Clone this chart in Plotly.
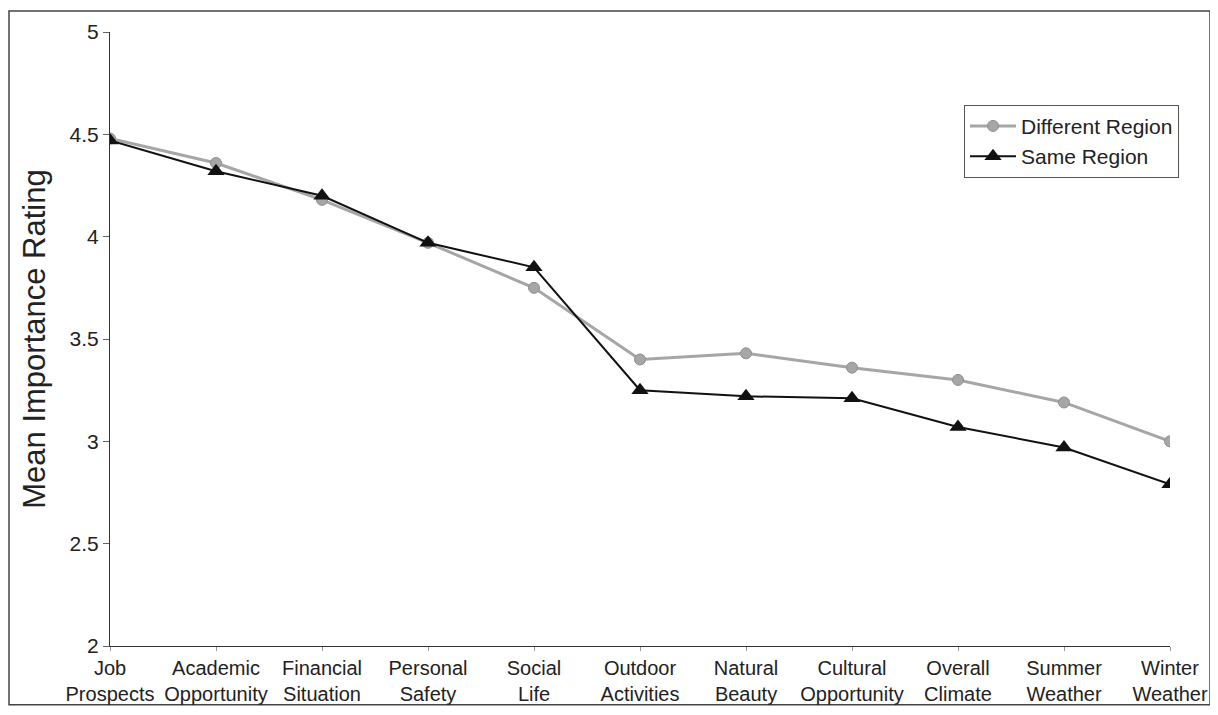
import plotly.graph_objects as go

categories = ["Job<br>Prospects", "Academic<br>Opportunity", "Financial<br>Situation",
              "Personal<br>Safety", "Social<br>Life", "Outdoor<br>Activities",
              "Natural<br>Beauty", "Cultural<br>Opportunity", "Overall<br>Climate",
              "Summer<br>Weather", "Winter<br>Weather"]
different_region = [4.48, 4.36, 4.18, 3.97, 3.75, 3.40, 3.43, 3.36, 3.30, 3.19, 3.00]
same_region = [4.47, 4.32, 4.20, 3.97, 3.85, 3.25, 3.22, 3.21, 3.07, 2.97, 2.79]
y_ticks = [2, 2.5, 3, 3.5, 4, 4.5, 5]
y_ticklabels = ["2", "2.5", "3", "3.5", "4", "4.5", "5"]

x_idx = list(range(len(categories)))
FONT = "Liberation Sans, Arial, sans-serif"

fig = go.Figure()
fig.add_trace(go.Scatter(
    x=x_idx, y=different_region, name="Different Region", mode="lines+markers",
    line=dict(color="#a6a6a6", width=3),
    marker=dict(symbol="circle", size=11, color="#a6a6a6",
                line=dict(color="#8f8f8f", width=1)),
))
fig.add_trace(go.Scatter(
    x=x_idx, y=same_region, name="Same Region", mode="lines+markers",
    line=dict(color="#111111", width=2),
    marker=dict(symbol="triangle-up", size=15, color="#111111"),
))

W, H = 1218, 715
L, R, T, B = 102, 56, 22, 77
pw, ph = W - L - R, H - T - B

def px_x(p):
    return (p - L) / pw

def px_y(p):
    return (H - B - p) / ph

fig.update_layout(
    width=W, height=H,
    margin=dict(l=L, r=R, t=T, b=B),
    paper_bgcolor="white", plot_bgcolor="white",
    font=dict(family=FONT, color="#222222"),
    showlegend=True,
    legend=dict(
        x=px_x(956), y=px_y(95), xanchor="left", yanchor="top",
        bordercolor="#555555", borderwidth=1, bgcolor="white",
        font=dict(size=21, family=FONT, color="#222222"),
        tracegroupgap=0, itemwidth=46,
    ),
    xaxis=dict(
        range=[0, len(categories) - 1],
        tickmode="array", tickvals=x_idx, ticktext=categories,
        showgrid=False, zeroline=False,
        showline=True, linecolor="#333333", linewidth=1,
        ticks="outside", ticklen=4, tickcolor="#999999",
        tickfont=dict(size=20, family=FONT, color="#222222"),
    ),
    yaxis=dict(
        range=[2, 5],
        tickmode="array", tickvals=y_ticks, ticktext=y_ticklabels,
        showgrid=False, zeroline=False,
        showline=True, linecolor="#333333", linewidth=1,
        ticks="outside", ticklen=6, tickcolor="#666666",
        tickfont=dict(size=21, family=FONT, color="#222222"),
        title=dict(text="Mean Importance Rating", standoff=14,
                   font=dict(size=31, family=FONT, color="#222222")),
    ),
    shapes=[dict(
        type="rect", xref="paper", yref="paper",
        x0=px_x(1), x1=px_x(1202), y0=px_y(697), y1=px_y(1),
        line=dict(color="#444444", width=1.5), fillcolor="rgba(0,0,0,0)", layer="below",
    )],
)

fig.write_html("out.html")
